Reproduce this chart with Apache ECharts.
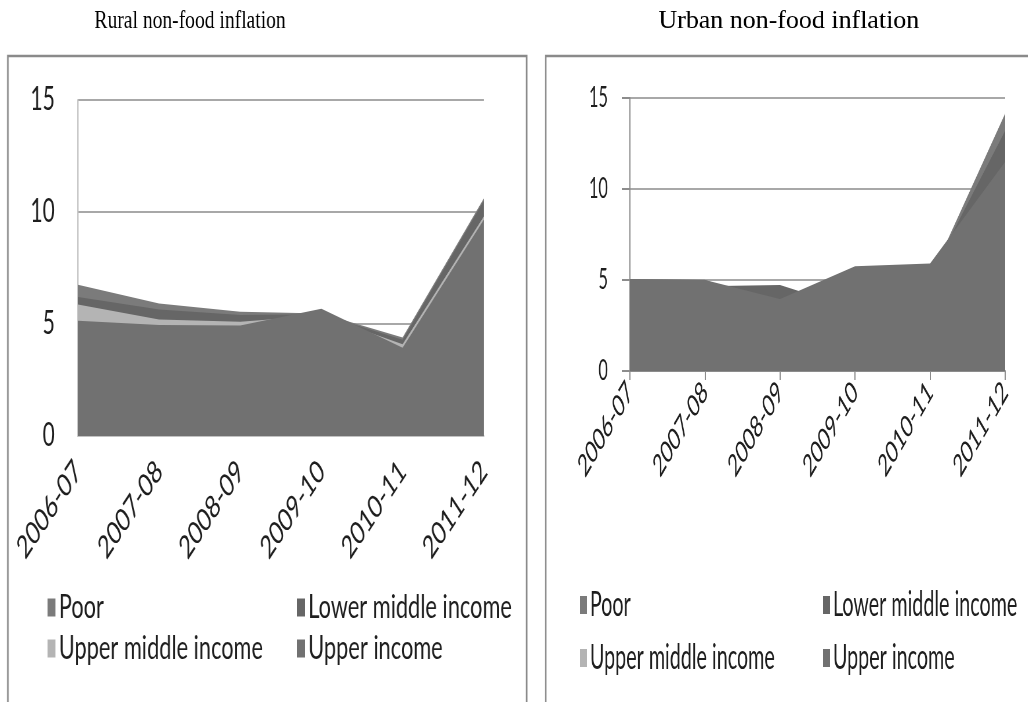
<!DOCTYPE html>
<html>
<head>
<meta charset="utf-8">
<script src="https://cdn.jsdelivr.net/npm/echarts@6/dist/echarts.min.js"></script>
<style>
  html, body { margin: 0; padding: 0; background: #fff; width: 1028px; height: 702px; overflow: hidden; }
  .panel { position: absolute; top: 0; height: 702px; transform-origin: 0 0; }
  /* each panel is laid out wide and squeezed horizontally, like the narrow source figures */
  #rural { left: 0; width: 818px; transform: scaleX(0.66); }
  #urban { left: 540px; width: 842px; transform: scaleX(0.58); }
</style>
</head>
<body>
<div id="rural" class="panel"></div>
<div id="urban" class="panel"></div>
<script>
// Fiscal years on the category axis
const years = ['2006-07', '2007-08', '2008-09', '2009-10', '2010-11', '2011-12'];

// Income groups, drawn back to front as overlapping areas
const groups = ['Poor', 'Lower middle income', 'Upper middle income', 'Upper income'];
const groupColors = ['#7b7b7b', '#666666', '#b4b4b4', '#717171'];

// Rural non-food inflation (%)
const ruralPoor        = [6.75, 5.92, 5.55, 5.47, 4.40, 10.60];
const ruralLowerMiddle = [6.20, 5.65, 5.40, 5.43, 4.30, 10.50];
const ruralUpperMiddle = [5.87, 5.20, 5.10, 5.38, 4.10, 9.80];
const ruralUpper       = [5.15, 4.95, 4.93, 5.68, 3.94, 9.65];

// Urban non-food inflation (%)
const urbanPoor        = [5.05, 5.02, 3.50, 5.60, 5.10, 14.15];
const urbanLowerMiddle = [5.05, 4.65, 4.73, 3.40, 5.20, 13.20];
const urbanUpperMiddle = [5.00, 4.95, 3.80, 5.70, 5.80, 11.20];
const urbanUpper       = [5.05, 5.00, 3.95, 5.76, 5.91, 11.50];

// Value axis ticks
const yTickLabels = ['0', '5', '10', '15'];
const yMin = 0, yMax = 15, yStep = 5;

const LABEL_FONT = 'Lato, "Noto Sans", sans-serif';

function areaSeries(values) {
  return values.map((data, i) => ({
    name: groups[i],
    type: 'line',
    data: data,
    symbol: 'none',
    smooth: false,
    silent: true,
    itemStyle: { color: groupColors[i] },
    lineStyle: { width: 0, color: groupColors[i] },
    areaStyle: { color: groupColors[i], opacity: 1 }
  }));
}

function legendItems(spots, font) {
  return groups.map((g, i) => ({
    data: [g],
    left: spots[i][0],
    top: spots[i][1],
    icon: 'rect',
    itemWidth: 12,
    itemHeight: 18,
    padding: 0,
    selectedMode: false,
    textStyle: { fontFamily: LABEL_FONT, fontSize: font, color: '#1e1e1e' }
  }));
}

function panelOption(p) {
  return {
    animation: false,
    backgroundColor: '#fff',
    graphic: [
      { type: 'rect', shape: { x: p.frame[0], y: 56, width: p.frame[1], height: 700 },
        style: { fill: 'none', stroke: '#8a8a8a', lineWidth: 2.5 }, silent: true },
      // panel heading; scaleX undoes part of the panel squeeze
      { type: 'text', x: p.titleX, y: 21, scaleX: p.titleScale, silent: true,
        style: { text: p.title, font: '26px "Liberation Serif", "Times New Roman", serif',
                 fill: '#000', textAlign: 'center', textVerticalAlign: 'middle' } }
    ],
    legend: legendItems(p.legend, p.legendFont),
    grid: { left: p.grid[0], top: p.grid[1], width: p.grid[2], height: p.grid[3] },
    xAxis: {
      type: 'category',
      data: years,
      boundaryGap: false,
      axisLine: { show: true, lineStyle: { color: p.axisColor, width: 2 } },
      axisTick: { show: p.ticks, length: 9, lineStyle: { color: p.axisColor, width: 2 } },
      axisLabel: { interval: 0, rotate: 45, margin: p.xMargin, fontFamily: LABEL_FONT,
                   fontSize: p.xFont, color: '#1e1e1e' },
      splitLine: { show: false }
    },
    yAxis: {
      type: 'value',
      min: yMin, max: yMax, interval: yStep,
      axisLine: { show: true, lineStyle: { color: p.axisColor, width: 2 } },
      axisTick: { show: p.ticks, length: 14, lineStyle: { color: p.axisColor, width: 2 } },
      axisLabel: { margin: p.yMargin, fontFamily: LABEL_FONT, fontSize: p.yFont, color: '#1e1e1e',
                   formatter: v => yTickLabels[Math.round((v - yMin) / yStep)] },
      splitLine: { show: true, lineStyle: { color: '#a8a8a8', width: 2 } }
    },
    series: areaSeries(p.values)
  };
}

const rural = echarts.init(document.getElementById('rural'));
rural.setOption(panelOption({
  title: 'Rural non-food inflation', titleX: 288, titleScale: 1.14,
  frame: [12, 786],
  grid: [118, 100, 615, 336],
  axisColor: '#c2c2c2', ticks: false,
  xMargin: 30, xFont: 32, yMargin: 35, yFont: 32,
  legend: [[72, 591], [450, 591], [72, 632], [450, 632]], legendFont: 33,
  values: [ruralPoor, ruralLowerMiddle, ruralUpperMiddle, ruralUpper]
}));

const urban = echarts.init(document.getElementById('urban'));
urban.setOption(panelOption({
  title: 'Urban non-food inflation', titleX: 429, titleScale: 1.72,
  frame: [10, 900],
  grid: [155, 98, 647, 273],
  axisColor: '#8c8c8c', ticks: true,
  xMargin: 16, xFont: 31, yMargin: 38, yFont: 28,
  legend: [[69, 588], [488, 588], [69, 641], [488, 641]], legendFont: 34,
  values: [urbanPoor, urbanLowerMiddle, urbanUpperMiddle, urbanUpper]
}));
</script>
</body>
</html>
